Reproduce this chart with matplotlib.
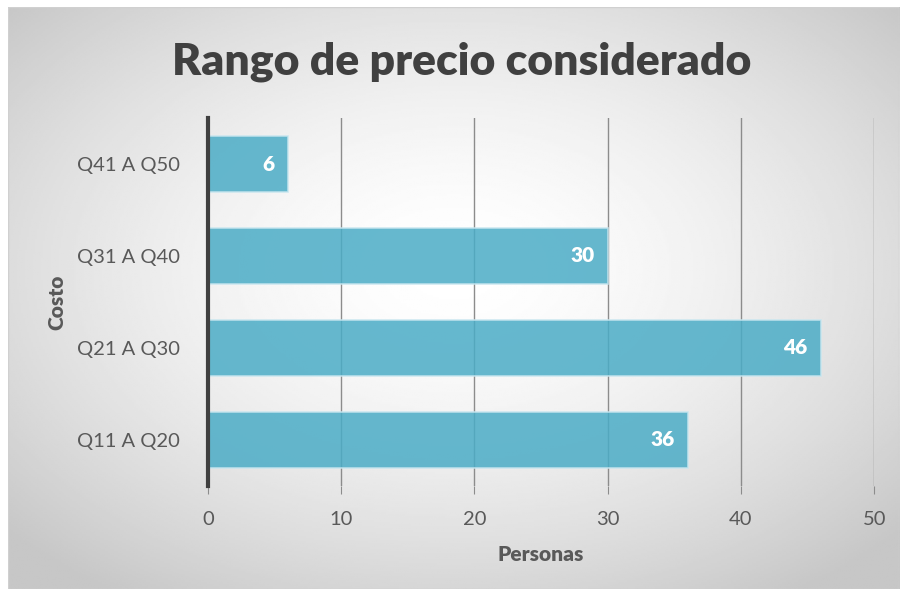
import numpy as np
import matplotlib.pyplot as plt

categorias = ['Q11 A Q20', 'Q21 A Q30', 'Q31 A Q40', 'Q41 A Q50']
personas = [36, 46, 30, 6]
xticks = [0, 10, 20, 30, 40, 50]

plt.rcParams['font.family'] = ['Lato', 'DejaVu Sans']

fig = plt.figure(figsize=(9.04, 5.96), dpi=100)

# fondo con degradado radial
bg = fig.add_axes([0.009, 0.012, 0.986, 0.976])
yy, xx = np.mgrid[-1:1:300j, -1:1:450j]
r = np.sqrt(xx ** 2 + (yy + 0.1) ** 2)
vals = 1.0 - 0.22 * np.clip(r / 1.35, 0, 1) ** 1.6
bg.imshow(vals, cmap='gray', vmin=0, vmax=1, aspect='auto', extent=[0, 1, 0, 1])
bg.set_axis_off()
frame = plt.Rectangle((0, 0), 1, 1, transform=bg.transAxes, fill=False,
                      edgecolor='#d0d0d0', lw=1)
bg.add_patch(frame)

ax = fig.add_axes([0.230, 0.1846, 0.737, 0.6174])
ax.patch.set_alpha(0)
y = np.arange(len(categorias))
ax.barh(y, personas, height=0.6, color='#4BACC6', alpha=0.85,
        edgecolor='#c8e6ef', linewidth=1.2, zorder=3)

for yi, v in zip(y, personas):
    ax.text(v - 1.0, yi, str(v), ha='right', va='center', color='white',
            fontsize=15, fontweight='heavy', zorder=4)

ax.set_xlim(0, 50)
ax.set_ylim(-0.5, 3.5)
ax.set_xticks(xticks)
ax.set_yticks(y)
ax.set_yticklabels(categorias)
ax.grid(axis='x', color='#8c8c8c', lw=1, zorder=1)
for s in ['top', 'right', 'bottom']:
    ax.spines[s].set_visible(False)
ax.spines['left'].set_color('#404040')
ax.spines['left'].set_linewidth(3)
ax.spines['left'].set_zorder(5)
ax.tick_params(axis='x', length=6, color='#8c8c8c', labelsize=14.5,
               labelcolor='#595959', pad=12)
ax.tick_params(axis='y', length=0, labelsize=14.5, labelcolor='#595959', pad=20)

ax.set_xlabel('Personas', fontsize=15, fontweight='heavy', color='#595959', labelpad=12)
ax.set_ylabel('Costo', fontsize=15, fontweight='heavy', color='#595959', labelpad=8)

fig.text(0.511, 0.897, 'Rango de precio considerado', ha='center', va='center',
         fontsize=32, fontweight='heavy', color='#404040')

fig.savefig('out.png', dpi=100)
